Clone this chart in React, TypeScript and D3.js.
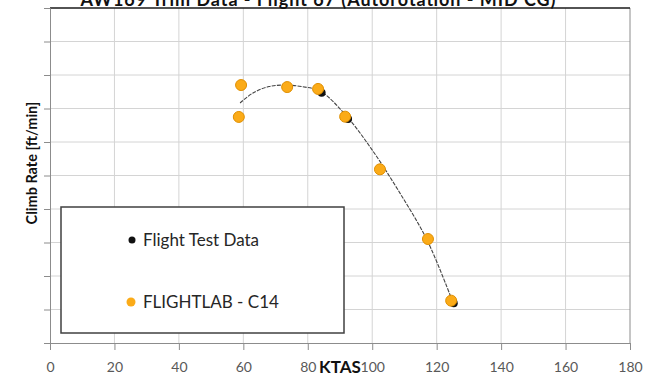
import React, {useEffect, useRef} from 'react'
import * as d3 from 'd3'

const width = 652
const height = 376
const margin = {top: 8, right: 22, bottom: 33, left: 50}

const graphWidth = width - margin.left - margin.right
const graphHeight = height - margin.top - margin.bottom

// KTAS / climb rate
const flightTestKtas = [59.5, 73.5, 84.3, 92.5, 102.4, 117.3, 125.3]
const flightTestRate = [-1080, -1090, -1132, -1328, -1709, -2231, -2704]

const flightlabKtas = [59.3, 58.6, 73.6, 83.2, 91.6, 102.4, 117.3, 124.5]
const flightlabRate = [-1075, -1313, -1090, -1104, -1311, -1704, -2224, -2684]

// trend line through the flight test points
const trendKtas = [59, 63, 68, 73, 78, 84, 92, 100, 108, 117, 125]
const trendRate = [-1209, -1134, -1086, -1075, -1086, -1123, -1306, -1560, -1858, -2231, -2694]

const xTicks = [0, 20, 40, 60, 80, 100, 120, 140, 160, 180]
const yTicks = [-3000, -2750, -2500, -2250, -2000, -1750, -1500, -1250, -1000, -750, -500]

const font = 'Lato, "Open Sans", sans-serif'

export default function App() {
    const ref = useRef<SVGSVGElement>(null)

    useEffect(() => {
        const svg = d3.select(ref.current)
        svg.selectAll('*').remove()

        const x = d3.scaleLinear().domain([0, 180]).range([0, graphWidth])
        const y = d3.scaleLinear().domain([-3000, -500]).range([graphHeight, 0])

        const graph = svg.append('g')
            .attr('transform', `translate(${margin.left}, ${margin.top})`)

        // grid
        graph.append('g')
            .selectAll('line')
            .data(yTicks.slice(1, -1))
            .join('line')
            .attr('x1', 0).attr('x2', graphWidth)
            .attr('y1', d => y(d)).attr('y2', d => y(d))
            .attr('stroke', '#d4d4d4')
        graph.append('g')
            .selectAll('line')
            .data(xTicks.slice(1, -1))
            .join('line')
            .attr('y1', 0).attr('y2', graphHeight)
            .attr('x1', d => x(d)).attr('x2', d => x(d))
            .attr('stroke', '#d4d4d4')

        // frame
        graph.append('line')
            .attr('x1', graphWidth).attr('x2', graphWidth)
            .attr('y1', 0).attr('y2', graphHeight)
            .attr('stroke', '#8c8c8c')
        graph.append('line')
            .attr('x1', 0).attr('x2', graphWidth)
            .attr('y1', 0).attr('y2', 0)
            .attr('stroke', '#1a1a1a').attr('stroke-width', 1.6)

        // axes
        const xAxis = d3.axisBottom(x).tickValues(xTicks).tickSize(7).tickPadding(12)
        const yAxis = d3.axisLeft(y).tickValues(yTicks).tickSize(6).tickFormat(() => '')

        const xAxisGroup = graph.append('g')
            .attr('transform', `translate(0, ${graphHeight})`)
            .call(xAxis)
        const yAxisGroup = graph.append('g').call(yAxis)

        for (const g of [xAxisGroup, yAxisGroup]) {
            g.select('.domain').attr('stroke', '#8c8c8c')
            g.selectAll('.tick line').attr('stroke', '#8c8c8c')
        }
        xAxisGroup.selectAll('text')
            .attr('fill', '#595959')
            .attr('font-size', 14)
            .attr('font-family', font)

        // trend line
        const line = d3.line<number>()
            .x((d, i) => x(trendKtas[i]))
            .y(d => y(d))
            .curve(d3.curveCatmullRom)
        graph.append('path')
            .datum(trendRate)
            .attr('d', line)
            .attr('fill', 'none')
            .attr('stroke', '#444')
            .attr('stroke-width', 1.1)
            .attr('stroke-dasharray', '4,1.2')

        // flight test points
        graph.append('g')
            .selectAll('circle')
            .data(flightTestRate)
            .join('circle')
            .attr('cx', (d, i) => x(flightTestKtas[i]))
            .attr('cy', d => y(d))
            .attr('r', 4)
            .attr('fill', '#111')

        // flightlab points
        graph.append('g')
            .selectAll('circle')
            .data(flightlabRate)
            .join('circle')
            .attr('cx', (d, i) => x(flightlabKtas[i]))
            .attr('cy', d => y(d))
            .attr('r', 5.5)
            .attr('fill', '#fbab18')
            .attr('stroke', '#e08f00')
            .attr('stroke-width', 1)

        // legend
        const legend = svg.append('g')
        legend.append('rect')
            .attr('x', 61).attr('y', 207)
            .attr('width', 283).attr('height', 126)
            .attr('fill', '#fff')
            .attr('stroke', '#404040')
            .attr('stroke-width', 1.5)
        legend.append('circle')
            .attr('cx', 132).attr('cy', 240).attr('r', 3.5)
            .attr('fill', '#111')
        legend.append('text')
            .attr('x', 143).attr('y', 246)
            .attr('font-size', 17).attr('font-family', font)
            .attr('fill', '#262626')
            .text('Flight Test Data')
        legend.append('circle')
            .attr('cx', 131).attr('cy', 302).attr('r', 4.5)
            .attr('fill', '#fbab18')
        legend.append('text')
            .attr('x', 143).attr('y', 308)
            .attr('font-size', 17).attr('font-family', font)
            .attr('fill', '#262626')
            .text('FLIGHTLAB - C14')

        // labels
        svg.append('text')
            .attr('x', 318).attr('y', 6)
            .attr('text-anchor', 'middle')
            .attr('font-size', 18).attr('font-weight', 'bold')
            .attr('font-family', font)
            .attr('textLength', 475)
            .attr('fill', '#111')
            .text('AW169 Trim Data - Flight 67 (Autorotation - MID CG)')

        svg.append('text')
            .attr('x', 340).attr('y', 373)
            .attr('text-anchor', 'middle')
            .attr('font-size', 17).attr('font-weight', 'bold')
            .attr('font-family', font)
            .attr('fill', '#111')
            .text('KTAS')

        svg.append('text')
            .attr('transform', 'translate(37, 163) rotate(-90)')
            .attr('text-anchor', 'middle')
            .attr('font-size', 14.5).attr('font-weight', 'bold')
            .attr('font-family', font)
            .attr('fill', '#111')
            .text('Climb Rate [ft/min]')
    }, [])

    return (
        <svg ref={ref} width={width} height={height}
             style={{position: 'absolute', left: 0, top: 0, background: '#fff'}} />
    )
}
